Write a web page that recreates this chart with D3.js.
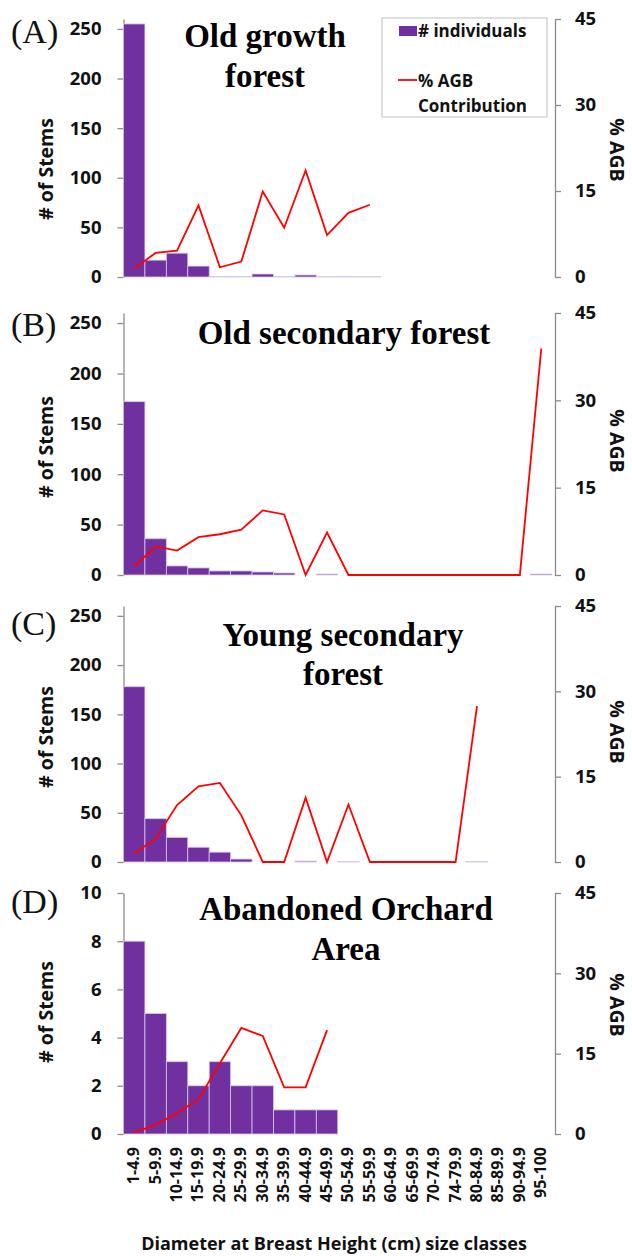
<!DOCTYPE html>
<html><head><meta charset="utf-8">
<script src="https://cdn.jsdelivr.net/npm/d3@7"></script>
<style>body{margin:0;background:#fff}</style>
</head><body>
<script>
const categories = ["1-4.9","5-9.9","10-14.9","15-19.9","20-24.9","25-29.9","30-34.9","35-39.9","40-44.9","45-49.9","50-54.9","55-59.9","60-64.9","65-69.9","70-74.9","74-79.9","80-84.9","85-89.9","90-94.9","95-100"];

const stemsA = [255,17,24,11,0.5,0.5,3,0.5,2,0.5,0.5,0.5];
const agbA   = [1.5,4.2,4.6,12.5,1.7,2.7,14.9,8.6,18.6,7.3,11.2,12.6];

const stemsB = [172,36,9,7,4,4,3,2,0,1,0,0,0,0,0,0,0,0,0,1];
const agbB   = [1.5,4.9,4.2,6.5,7.0,7.8,11.1,10.4,0,7.3,0,0,0,0,0,0,0,0,0,38.9];

const stemsC = [178,44,25,15,10,3,0,0,1,0,0.5,0,0,0,0,0,0.5];
const agbC   = [1.5,4.1,10.0,13.3,13.9,8.2,0,0,11.3,0,10.1,0,0,0,0,0,27.4];

const stemsD = [8,5,3,2,3,2,2,1,1,1];
const agbD   = [0.3,1.7,3.9,6.5,13.2,19.8,18.3,8.7,8.7,19.4];

const leftTicksABC = [0,50,100,150,200,250];
const leftTicksD = [0,2,4,6,8,10];
const rightTicks = [0,15,30,45];

const panels = [
  {label:"(A)", title:["Old growth","forest"], titleX:265, titleY:[47,87], stems:stemsA, agb:agbA, lmax:260, lticks:leftTicksABC, top:19, bottom:277, labelY:43, ytY:169, ytR:150},
  {label:"(B)", title:["Old secondary forest"], titleX:344, titleY:[344], stems:stemsB, agb:agbB, lmax:260, lticks:leftTicksABC, top:313, bottom:575, labelY:336, ytY:447, ytR:441},
  {label:"(C)", title:["Young secondary","forest"], titleX:343, titleY:[646,685], stems:stemsC, agb:agbC, lmax:260, lticks:leftTicksABC, top:606, bottom:862, labelY:635, ytY:737, ytR:732},
  {label:"(D)", title:["Abandoned Orchard","Area"], titleX:346, titleY:[920,960], stems:stemsD, agb:agbD, lmax:10, lticks:leftTicksD, top:893, bottom:1134, labelY:913, ytY:1012, ytR:1005}
];

const W=632, H=1256;
const xL=123.5, xR=552, rAxisX=555, lAxisX=123.5;
const svg = d3.select("body").append("svg").attr("width",W).attr("height",H);
const x = d3.scaleBand().domain(categories).range([xL,xR]).padding(0);
const sans = "'Open Sans', Lato, sans-serif";
const serif = "'Liberation Serif', 'Times New Roman', serif";

panels.forEach(p=>{
  const g = svg.append("g");
  const yL = d3.scaleLinear().domain([0,p.lmax]).range([p.bottom,p.top]);
  const yR = d3.scaleLinear().domain([0,45]).range([p.bottom,p.top]);

  // left axis
  const la = g.append("g").attr("transform",`translate(${lAxisX},0)`)
    .call(d3.axisLeft(yL).tickValues(p.lticks).tickSize(6).tickSizeOuter(0).tickPadding(16));
  la.select(".domain").attr("stroke","#8c8c8c").attr("stroke-width",1.3);
  la.selectAll(".tick line").attr("stroke","#8c8c8c").attr("stroke-width",1.3);
  la.selectAll("text").attr("font-family",sans).attr("font-weight",700).attr("font-size",18.5).attr("fill","#111");

  // right axis
  const ra = g.append("g").attr("transform",`translate(${rAxisX},0)`)
    .call(d3.axisRight(yR).tickValues(rightTicks).tickSize(6).tickSizeOuter(0).tickPadding(14));
  ra.select(".domain").attr("stroke","#8c8c8c").attr("stroke-width",1.3);
  ra.selectAll(".tick line").attr("stroke","#8c8c8c").attr("stroke-width",1.3);
  ra.selectAll("text").attr("font-family",sans).attr("font-weight",700).attr("font-size",18.5).attr("fill","#111");

  // bars
  const bars = p.stems.map((v,i)=>({c:categories[i],v})).filter(d=>d.v>0);
  g.selectAll("rect.bar").data(bars).enter().append("rect")
    .attr("x",d=>x(d.c)).attr("width",x.bandwidth())
    .attr("y",d=>yL(d.v)).attr("height",d=>p.bottom-yL(d.v))
    .attr("fill","#7030a0").attr("stroke","#d8c8e6").attr("stroke-width",0.8);

  // line
  const pts = p.agb.map((v,i)=>({c:categories[i],v}));
  const line = d3.line().x(d=>x(d.c)+x.bandwidth()/2).y(d=>yR(d.v));
  g.append("path").attr("d",line(pts)).attr("fill","none").attr("stroke","#ff0000").attr("stroke-width",1.8);

  // y titles
  g.append("text").attr("transform",`translate(53,${p.ytY}) rotate(-90)`).attr("text-anchor","middle")
    .attr("font-family",sans).attr("font-weight",700).attr("font-size",19.5).attr("fill","#111").text("# of Stems");
  g.append("text").attr("transform",`translate(610,${p.ytR}) rotate(90)`).attr("text-anchor","middle")
    .attr("font-family",sans).attr("font-weight",700).attr("font-size",19.5).attr("fill","#111").text("% AGB");

  // panel label
  g.append("text").attr("x",11).attr("y",p.labelY).attr("font-family",serif).attr("font-size",34).attr("fill","#111").text(p.label);

  // title
  p.title.forEach((t,k)=>{
    g.append("text").attr("x",p.titleX).attr("y",p.titleY[k]).attr("text-anchor","middle")
      .attr("font-family",serif).attr("font-weight",700).attr("font-size",33).attr("fill","#000").text(t);
  });
});

// legend in panel A
const lg = svg.append("g");
lg.append("rect").attr("x",382).attr("y",18).attr("width",165).attr("height",99).attr("fill","#fff").attr("stroke","#bfbfbf").attr("stroke-width",1);
lg.append("rect").attr("x",399).attr("y",26).attr("width",18).attr("height",10).attr("fill","#7030a0");
lg.append("text").attr("x",418).attr("y",36.5).attr("font-family",sans).attr("font-weight",700).attr("font-size",17).attr("fill","#111").text("# individuals");
lg.append("line").attr("x1",398).attr("x2",417).attr("y1",80).attr("y2",80).attr("stroke","#ff0000").attr("stroke-width",1.8);
lg.append("text").attr("x",418).attr("y",86.5).attr("font-family",sans).attr("font-weight",700).attr("font-size",17).attr("fill","#111").text("% AGB");
lg.append("text").attr("x",418).attr("y",111.5).attr("font-family",sans).attr("font-weight",700).attr("font-size",17).attr("fill","#111").text("Contribution");

// x labels
const xa = svg.append("g");
categories.forEach(c=>{
  xa.append("text").attr("transform",`translate(${x(c)+x.bandwidth()/2+5},1147) rotate(-90)`)
    .attr("text-anchor","end").attr("font-family",sans).attr("font-weight",700).attr("font-size",16).attr("fill","#111").text(c);
});
svg.append("text").attr("x",334).attr("y",1250).attr("text-anchor","middle").attr("font-family",sans).attr("font-weight",700).attr("font-size",18).attr("fill","#111").text("Diameter at Breast Height (cm) size classes");
</script>
</body></html>
